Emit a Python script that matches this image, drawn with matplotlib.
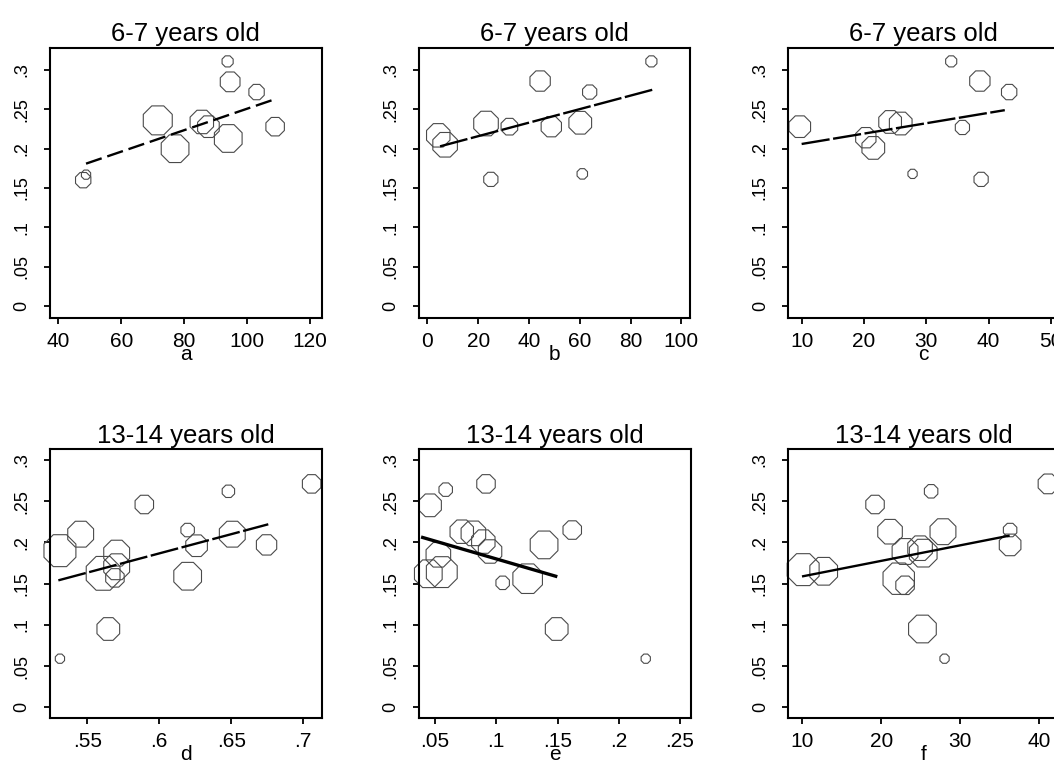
import numpy as np
import matplotlib
matplotlib.use("Agg")
import matplotlib.pyplot as plt

plt.rcParams['font.family'] = ['Liberation Sans', 'DejaVu Sans']

# y axis shared by all panels
y_ticks = [0, 0.05, 0.1, 0.15, 0.2, 0.25, 0.3]
y_ticklabels = ['0', '.05', '.1', '.15', '.2', '.25', '.3']

# ---- 6-7 years old ----
a_x = [93.8, 94.6, 103.0, 108.9, 71.6, 85.6, 87.7, 94.0, 77.1, 47.9, 48.8]
a_y = [0.311, 0.285, 0.272, 0.228, 0.236, 0.234, 0.228, 0.213, 0.200, 0.160, 0.167]
a_w = [36, 114, 69, 100, 246, 161, 137, 225, 225, 69, 25]
a_fit_x = [48.8, 108.9]
a_fit_y = [0.181, 0.263]

b_x = [88.2, 44.4, 63.9, 4.3, 7.0, 23.1, 32.3, 48.8, 60.2, 25.0, 61.0]
b_y = [0.311, 0.286, 0.272, 0.217, 0.205, 0.232, 0.228, 0.228, 0.233, 0.161, 0.168]
b_w = [36, 121, 59, 161, 177, 177, 81, 121, 151, 59, 32]
b_fit_x = [5.0, 88.7]
b_fit_y = [0.203, 0.275]

c_x = [34.0, 38.6, 43.3, 9.7, 20.3, 21.5, 24.2, 25.9, 35.8, 27.8, 38.8]
c_y = [0.311, 0.286, 0.272, 0.228, 0.214, 0.201, 0.234, 0.232, 0.227, 0.168, 0.161]
c_w = [36, 121, 69, 137, 121, 151, 151, 151, 59, 25, 59]
c_fit_x = [10.0, 42.6]
c_fit_y = [0.206, 0.249]

# ---- 13-14 years old ----
d_x = [0.7058, 0.648, 0.5896, 0.531, 0.5454, 0.561, 0.5704, 0.5704, 0.5692,
       0.5646, 0.531, 0.6197, 0.6259, 0.6197, 0.6507, 0.6745]
d_y = [0.271, 0.262, 0.246, 0.190, 0.210, 0.1625, 0.187, 0.1705, 0.157,
       0.095, 0.059, 0.215, 0.196, 0.159, 0.210, 0.197]
d_w = [100, 45, 100, 299, 196, 335, 196, 196, 100, 151, 25, 53, 137, 225, 196, 121]
d_fit_x = [0.5299, 0.6757]
d_fit_y = [0.154, 0.222]

e_x = [0.0916, 0.0587, 0.0459, 0.0718, 0.0813, 0.0894, 0.0949, 0.0527,
       0.0555, 0.0445, 0.1052, 0.1256, 0.139, 0.162, 0.1493, 0.222]
e_y = [0.271, 0.264, 0.245, 0.213, 0.211, 0.201, 0.189, 0.185,
       0.164, 0.162, 0.151, 0.156, 0.197, 0.215, 0.095, 0.059]
e_w = [100, 53, 151, 161, 177, 161, 161, 177, 279, 225, 53, 256, 225, 100, 151, 25]
e_fit_x = [0.0399, 0.1485]
e_fit_y = [0.206, 0.159]

f_x = [41.1, 26.3, 19.2, 10.1, 12.7, 21.1, 27.8, 23.0, 24.9, 25.3, 22.2, 23.0,
       36.3, 36.3, 25.2, 28.0]
f_y = [0.271, 0.262, 0.246, 0.167, 0.165, 0.213, 0.213, 0.189, 0.193, 0.187,
       0.156, 0.148, 0.215, 0.197, 0.095, 0.059]
f_w = [114, 53, 100, 299, 225, 177, 196, 196, 177, 225, 289, 100, 53, 137, 225, 25]
f_fit_x = [10.1, 36.1]
f_fit_y = [0.159, 0.208]

W, H = 1054, 762
fig = plt.figure(figsize=(W / 100, H / 100), dpi=100)


def rect(left, top, right, bottom):
    """Axes box from pixel edges of the original picture."""
    return [left / W, 1 - bottom / H, (right - left) / W, (bottom - top) / H]


def draw_panel(box, x, y, w, fit_x, fit_y, xlim, ylim, xticks, xticklabels,
               title, xlabel, dashes, lw=1.7):
    ax = fig.add_axes(box)
    ax.scatter(x, y, s=np.array(w) * 2.07, marker='8', facecolors='none',
               edgecolors='#4a4a4a', linewidths=0.8, clip_on=False, zorder=2)
    ax.plot(fit_x, fit_y, color='black', lw=lw, dashes=dashes, zorder=3)
    ax.set_xlim(xlim)
    ax.set_ylim(ylim)
    ax.set_xticks(xticks)
    ax.set_xticklabels(xticklabels, fontsize=15)
    ax.set_yticks(y_ticks)
    ax.set_yticklabels(y_ticklabels, fontsize=13, rotation=90, va='center')
    ax.tick_params(axis='both', direction='out', length=4, width=1.3, color='black')
    ax.tick_params(axis='x', pad=6)
    ax.tick_params(axis='y', pad=10)
    for sp in ax.spines.values():
        sp.set_linewidth(1.5)
    ax.set_title(title, fontsize=18.5, pad=4.5)
    ax.set_xlabel(xlabel, fontsize=15)
    ax.xaxis.set_label_coords(0.5, -0.1)
    return ax


top_ylim = (-0.0156, 0.3284)
bot_ylim = (-0.0133, 0.3133)

draw_panel(rect(50, 47.7, 321.7, 318.3), a_x, a_y, a_w, a_fit_x, a_fit_y,
           (37.35, 123.7), top_ylim, [40, 60, 80, 100, 120],
           ['40', '60', '80', '100', '120'], '6-7 years old', 'a', (7, 2.5))
draw_panel(rect(419, 47.7, 690, 318.3), b_x, b_y, b_w, b_fit_x, b_fit_y,
           (-3.28, 103.4), top_ylim, [0, 20, 40, 60, 80, 100],
           ['0', '20', '40', '60', '80', '100'], '6-7 years old', 'b', (12, 1.5))
draw_panel(rect(788.3, 47.7, 1059, 318.3), c_x, c_y, c_w, c_fit_x, c_fit_y,
           (7.86, 51.3), top_ylim, [10, 20, 30, 40, 50],
           ['10', '20', '30', '40', '50'], '6-7 years old', 'c', (12, 1.5))

draw_panel(rect(50, 449, 321.7, 718.3), d_x, d_y, d_w, d_fit_x, d_fit_y,
           (0.5241, 0.7128), bot_ylim, [0.55, 0.6, 0.65, 0.7],
           ['.55', '.6', '.65', '.7'], '13-14 years old', 'd', (12, 1.5))
draw_panel(rect(419, 449, 690.7, 718.3), e_x, e_y, e_w, e_fit_x, e_fit_y,
           (0.0369, 0.2587), bot_ylim, [0.05, 0.1, 0.15, 0.2, 0.25],
           ['.05', '.1', '.15', '.2', '.25'], '13-14 years old', 'e', (None, None),
           lw=2.4)
draw_panel(rect(788.3, 449, 1059, 718.3), f_x, f_y, f_w, f_fit_x, f_fit_y,
           (8.22, 42.49), bot_ylim, [10, 20, 30, 40],
           ['10', '20', '30', '40'], '13-14 years old', 'f', (None, None))

fig.savefig('out.png', dpi=100)
